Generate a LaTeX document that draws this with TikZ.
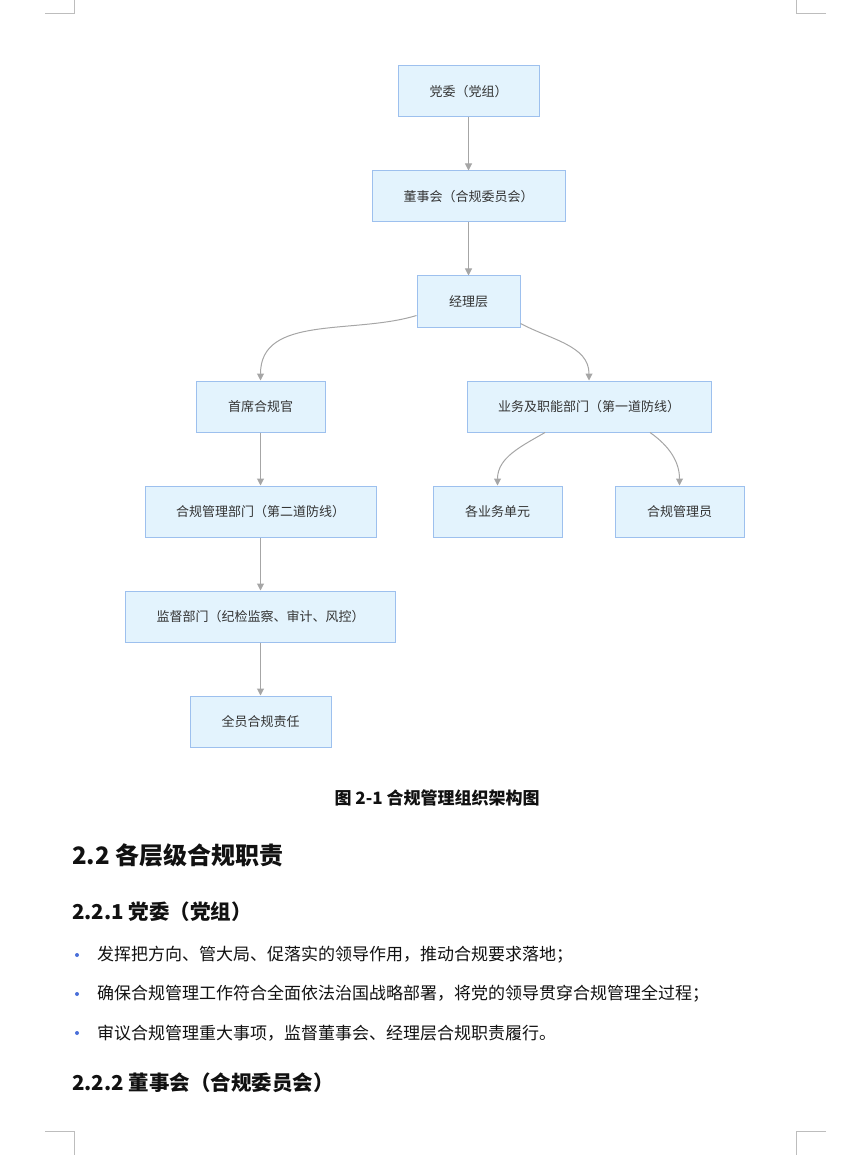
\documentclass[tikz,border=0pt]{standalone}
\usepackage{fontspec}
\setmainfont{Noto Sans CJK SC}
\usepackage{xcolor}
\usepackage{tikz}
\usetikzlibrary{positioning,arrows.meta,calc}
\definecolor{boxline}{HTML}{9DC0EE}
\definecolor{boxbg}{HTML}{E3F3FD}
\definecolor{wire}{HTML}{A6A6A6}
\definecolor{ink}{HTML}{333333}
\definecolor{headink}{HTML}{111111}
\definecolor{dotblue}{HTML}{4A6FD9}
\definecolor{cropgray}{HTML}{BDBDBD}
\newcommand{\fs}[1]{\fontsize{#1}{#1}\selectfont}

\begin{document}
\begin{tikzpicture}[
  x=1pt,y=-1pt,
  >={Triangle[length=7pt,width=7pt]},
  orgbox/.style={draw=boxline,fill=boxbg,line width=1pt,minimum height=51pt,
    inner sep=2pt,font=\fs{13},text=ink},
  edge/.style={->,wire,line width=1pt},
  caption/.style={font=\bfseries\fs{17},text=headink},
  headA/.style={anchor=west,font=\bfseries\fs{24},text=headink,inner sep=0pt},
  headB/.style={anchor=west,font=\bfseries\fs{20.5},text=headink,inner sep=0pt},
  itemtxt/.style={anchor=west,font=\fs{17},text=headink,inner sep=0pt},
  crop/.style={cropgray,line width=1pt}
]
\useasboundingbox (0,0) rectangle (852,1155);
% crop marks
\draw[crop] (45,14) -- (74,14) -- (74,0);
\draw[crop] (826,14) -- (796,14) -- (796,0);
\draw[crop] (45,1131) -- (74,1131) -- (74,1155);
\draw[crop] (826,1131) -- (796,1131) -- (796,1155);
% top chain
\node[orgbox,minimum width=141pt] (dw) at (468.5,91.5) {党委（党组）};
\node[orgbox,minimum width=193pt,below=53pt of dw] (dsh) {董事会（合规委员会）};
\node[orgbox,minimum width=103pt,below=53pt of dsh] (jl) {经理层};
% second row
\node[orgbox,minimum width=129pt] (cco) at (260.5,406.5) {首席合规官};
\node[orgbox,minimum width=244pt] (biz) at (589,406.5) {业务及职能部门（第一道防线）};
% left column
\node[orgbox,minimum width=231pt,below=53pt of cco] (hgb) {合规管理部门（第二道防线）};
\node[orgbox,minimum width=270pt,below=53pt of hgb] (jd) {监督部门（纪检监察、审计、风控）};
\node[orgbox,minimum width=141pt,below=53pt of jd] (qy) {全员合规责任};
% right leaves
\node[orgbox,minimum width=129pt] (unit) at (497.5,511.5) {各业务单元};
\node[orgbox,minimum width=129pt] (gly) at (679.5,511.5) {合规管理员};
% arrows
\draw[edge] (dw) -- (dsh);
\draw[edge] (dsh) -- (jl);
\draw[edge] ($(jl.south west)+(0,12pt)$) to[out=197,in=90] (cco.north);
\draw[edge] ($(jl.south east)+(0,4pt)$) to[out=-28,in=90] (biz.north);
\draw[edge] (cco) -- (hgb);
\draw[edge] (hgb) -- (jd);
\draw[edge] (jd) -- (qy);
\draw[edge] ($(biz.south)+(-44pt,0)$) to[out=-150,in=90] (unit.north);
\draw[edge] ($(biz.south)+(61pt,0)$) to[out=-35,in=90] (gly.north);
% caption and text below
\node[caption] (cap) at (437,798) {图 2-1 合规管理组织架构图};
\node[headA] (h22) at (72,855) {2.2 各层级合规职责};
\node[headB] (h221) at (72,912) {2.2.1 党委（党组）};
\foreach \y/\t [count=\i] in {955/{发挥把方向、管大局、促落实的领导作用，推动合规要求落地；},
    994/{确保合规管理工作符合全面依法治国战略部署，将党的领导贯穿合规管理全过程；},
    1033/{审议合规管理重大事项，监督董事会、经理层合规职责履行。}}{
  \fill[dotblue] (77,\y) circle (2pt);
  \node[itemtxt] (item\i) at (97,\y) {\t};
}
\node[headB] (h222) at (72,1083) {2.2.2 董事会（合规委员会）};
\end{tikzpicture}
\end{document}
